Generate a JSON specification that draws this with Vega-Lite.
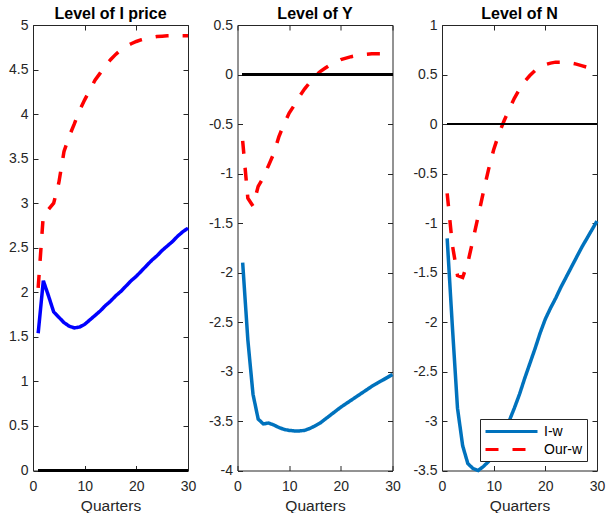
{
  "$schema": "https://vega.github.io/schema/vega-lite/v6.json",
  "background": "white",
  "padding": {"left": 8, "top": 5, "right": 9, "bottom": 0},
  "datasets": {
    "p1": [
      {"q":1,"s":"I-w","v":1.54},{"q":2,"s":"I-w","v":2.13},{"q":3,"s":"I-w","v":1.96},{"q":4,"s":"I-w","v":1.78},{"q":5,"s":"I-w","v":1.72},{"q":6,"s":"I-w","v":1.66},{"q":7,"s":"I-w","v":1.62},{"q":8,"s":"I-w","v":1.60},{"q":9,"s":"I-w","v":1.61},{"q":10,"s":"I-w","v":1.64},
      {"q":11,"s":"I-w","v":1.69},{"q":12,"s":"I-w","v":1.74},{"q":13,"s":"I-w","v":1.79},{"q":14,"s":"I-w","v":1.85},{"q":15,"s":"I-w","v":1.90},{"q":16,"s":"I-w","v":1.96},{"q":17,"s":"I-w","v":2.01},{"q":18,"s":"I-w","v":2.07},{"q":19,"s":"I-w","v":2.13},{"q":20,"s":"I-w","v":2.18},
      {"q":21,"s":"I-w","v":2.24},{"q":22,"s":"I-w","v":2.30},{"q":23,"s":"I-w","v":2.36},{"q":24,"s":"I-w","v":2.41},{"q":25,"s":"I-w","v":2.47},{"q":26,"s":"I-w","v":2.52},{"q":27,"s":"I-w","v":2.57},{"q":28,"s":"I-w","v":2.63},{"q":29,"s":"I-w","v":2.68},{"q":30,"s":"I-w","v":2.72},
      {"q":1,"s":"Our-w","v":2.05},{"q":2,"s":"Our-w","v":2.87},{"q":3,"s":"Our-w","v":2.93},{"q":4,"s":"Our-w","v":3.0},{"q":5,"s":"Our-w","v":3.23},{"q":6,"s":"Our-w","v":3.58},{"q":7,"s":"Our-w","v":3.75},{"q":8,"s":"Our-w","v":3.89},{"q":9,"s":"Our-w","v":4.04},{"q":10,"s":"Our-w","v":4.16},
      {"q":11,"s":"Our-w","v":4.27},{"q":12,"s":"Our-w","v":4.38},{"q":13,"s":"Our-w","v":4.46},{"q":14,"s":"Our-w","v":4.54},{"q":15,"s":"Our-w","v":4.61},{"q":16,"s":"Our-w","v":4.67},{"q":17,"s":"Our-w","v":4.72},{"q":18,"s":"Our-w","v":4.76},{"q":19,"s":"Our-w","v":4.79},{"q":20,"s":"Our-w","v":4.815},
      {"q":21,"s":"Our-w","v":4.835},{"q":22,"s":"Our-w","v":4.85},{"q":23,"s":"Our-w","v":4.86},{"q":24,"s":"Our-w","v":4.87},{"q":25,"s":"Our-w","v":4.875},{"q":26,"s":"Our-w","v":4.878},{"q":27,"s":"Our-w","v":4.88},{"q":28,"s":"Our-w","v":4.88},{"q":29,"s":"Our-w","v":4.88},{"q":30,"s":"Our-w","v":4.88}
    ],
    "p2": [
      {"q":1,"s":"I-w","v":-1.90},{"q":2,"s":"I-w","v":-2.68},{"q":3,"s":"I-w","v":-3.23},{"q":4,"s":"I-w","v":-3.48},{"q":5,"s":"I-w","v":-3.53},{"q":6,"s":"I-w","v":-3.52},{"q":7,"s":"I-w","v":-3.54},{"q":8,"s":"I-w","v":-3.565},{"q":9,"s":"I-w","v":-3.585},{"q":10,"s":"I-w","v":-3.595},
      {"q":11,"s":"I-w","v":-3.60},{"q":12,"s":"I-w","v":-3.60},{"q":13,"s":"I-w","v":-3.595},{"q":14,"s":"I-w","v":-3.575},{"q":15,"s":"I-w","v":-3.55},{"q":16,"s":"I-w","v":-3.52},{"q":17,"s":"I-w","v":-3.48},{"q":18,"s":"I-w","v":-3.44},{"q":19,"s":"I-w","v":-3.40},{"q":20,"s":"I-w","v":-3.36},
      {"q":21,"s":"I-w","v":-3.325},{"q":22,"s":"I-w","v":-3.29},{"q":23,"s":"I-w","v":-3.255},{"q":24,"s":"I-w","v":-3.22},{"q":25,"s":"I-w","v":-3.185},{"q":26,"s":"I-w","v":-3.15},{"q":27,"s":"I-w","v":-3.12},{"q":28,"s":"I-w","v":-3.09},{"q":29,"s":"I-w","v":-3.06},{"q":30,"s":"I-w","v":-3.03},
      {"q":1,"s":"Our-w","v":-0.67},{"q":2,"s":"Our-w","v":-1.25},{"q":3,"s":"Our-w","v":-1.33},{"q":4,"s":"Our-w","v":-1.13},{"q":5,"s":"Our-w","v":-1.04},{"q":6,"s":"Our-w","v":-0.92},{"q":7,"s":"Our-w","v":-0.80},{"q":8,"s":"Our-w","v":-0.63},{"q":9,"s":"Our-w","v":-0.50},{"q":10,"s":"Our-w","v":-0.39},
      {"q":11,"s":"Our-w","v":-0.31},{"q":12,"s":"Our-w","v":-0.22},{"q":13,"s":"Our-w","v":-0.145},{"q":14,"s":"Our-w","v":-0.08},{"q":15,"s":"Our-w","v":-0.02},{"q":16,"s":"Our-w","v":0.03},{"q":17,"s":"Our-w","v":0.065},{"q":18,"s":"Our-w","v":0.10},{"q":19,"s":"Our-w","v":0.125},{"q":20,"s":"Our-w","v":0.15},
      {"q":21,"s":"Our-w","v":0.165},{"q":22,"s":"Our-w","v":0.18},{"q":23,"s":"Our-w","v":0.19},{"q":24,"s":"Our-w","v":0.20},{"q":25,"s":"Our-w","v":0.205},{"q":26,"s":"Our-w","v":0.21},{"q":27,"s":"Our-w","v":0.21},{"q":28,"s":"Our-w","v":0.21},{"q":29,"s":"Our-w","v":0.21},{"q":30,"s":"Our-w","v":0.21}
    ],
    "p3": [
      {"q":1,"s":"I-w","v":-1.155},{"q":2,"s":"I-w","v":-2.04},{"q":3,"s":"I-w","v":-2.87},{"q":4,"s":"I-w","v":-3.25},{"q":5,"s":"I-w","v":-3.43},{"q":6,"s":"I-w","v":-3.48},{"q":7,"s":"I-w","v":-3.50},{"q":8,"s":"I-w","v":-3.46},{"q":9,"s":"I-w","v":-3.41},{"q":10,"s":"I-w","v":-3.33},
      {"q":11,"s":"I-w","v":-3.23},{"q":12,"s":"I-w","v":-3.12},{"q":13,"s":"I-w","v":-3.0},{"q":14,"s":"I-w","v":-2.87},{"q":15,"s":"I-w","v":-2.73},{"q":16,"s":"I-w","v":-2.57},{"q":17,"s":"I-w","v":-2.42},{"q":18,"s":"I-w","v":-2.27},{"q":19,"s":"I-w","v":-2.11},{"q":20,"s":"I-w","v":-1.97},
      {"q":21,"s":"I-w","v":-1.86},{"q":22,"s":"I-w","v":-1.76},{"q":23,"s":"I-w","v":-1.65},{"q":24,"s":"I-w","v":-1.55},{"q":25,"s":"I-w","v":-1.45},{"q":26,"s":"I-w","v":-1.35},{"q":27,"s":"I-w","v":-1.25},{"q":28,"s":"I-w","v":-1.16},{"q":29,"s":"I-w","v":-1.07},{"q":30,"s":"I-w","v":-0.98},
      {"q":1,"s":"Our-w","v":-0.70},{"q":2,"s":"Our-w","v":-1.22},{"q":3,"s":"Our-w","v":-1.53},{"q":4,"s":"Our-w","v":-1.55},{"q":5,"s":"Our-w","v":-1.40},{"q":6,"s":"Our-w","v":-1.17},{"q":7,"s":"Our-w","v":-0.93},{"q":8,"s":"Our-w","v":-0.69},{"q":9,"s":"Our-w","v":-0.46},{"q":10,"s":"Our-w","v":-0.26},
      {"q":11,"s":"Our-w","v":-0.10},{"q":12,"s":"Our-w","v":0.03},{"q":13,"s":"Our-w","v":0.15},{"q":14,"s":"Our-w","v":0.26},{"q":15,"s":"Our-w","v":0.35},{"q":16,"s":"Our-w","v":0.43},{"q":17,"s":"Our-w","v":0.49},{"q":18,"s":"Our-w","v":0.54},{"q":19,"s":"Our-w","v":0.58},{"q":20,"s":"Our-w","v":0.60},
      {"q":21,"s":"Our-w","v":0.615},{"q":22,"s":"Our-w","v":0.625},{"q":23,"s":"Our-w","v":0.625},{"q":24,"s":"Our-w","v":0.62},{"q":25,"s":"Our-w","v":0.615},{"q":26,"s":"Our-w","v":0.605},{"q":27,"s":"Our-w","v":0.59},{"q":28,"s":"Our-w","v":0.575},{"q":29,"s":"Our-w","v":0.555},{"q":30,"s":"Our-w","v":0.53}
    ]
  },
  "spacing": 49.5,
  "bounds": "flush",
  "resolve": {"scale": {"color": "independent", "strokeDash": "independent", "x": "independent", "y": "independent"}},
  "hconcat": [
    {
      "title": "Level of I price",
      "width": 155, "height": 445.5,
      "data": {"name": "p1"},
      "layer": [
        {
          "mark": {"type": "line", "strokeWidth": 3.5},
          "encoding": {
            "x": {"field": "q", "type": "quantitative", "scale": {"domain": [0, 30], "nice": false, "zero": false}, "axis": {"values": [0, 10, 20, 30], "title": "Quarters", "labelFlush": false}},
            "y": {"field": "v", "type": "quantitative", "scale": {"domain": [0, 5], "nice": false, "zero": false}, "axis": {"values": [0, 0.5, 1, 1.5, 2, 2.5, 3, 3.5, 4, 4.5, 5], "title": null, "labelExpr": "'' + datum.value"}},
            "color": {"field": "s", "type": "nominal", "scale": {"domain": ["I-w", "Our-w"], "range": ["#0000FF", "#FF0000"]}, "legend": null},
            "strokeDash": {"field": "s", "type": "nominal", "scale": {"domain": ["I-w", "Our-w"], "range": [[1, 0], [13, 14]]}, "legend": null}
          }
        },
        {
          "mark": {"type": "rule", "color": "#000000", "strokeWidth": 2},
          "encoding": {
            "x": {"datum": 1, "type": "quantitative", "axis": null},
            "x2": {"datum": 30},
            "y": {"datum": 0, "type": "quantitative", "axis": null}
          }
        },
        {
          "mark": {"type": "line", "opacity": 0},
          "encoding": {
            "x": {"field": "q", "type": "quantitative", "axis": {"orient": "top", "labels": false, "title": null, "values": [0, 10, 20, 30], "labelPadding": 0, "minExtent": 0, "maxExtent": 0}},
            "y": {"field": "v", "type": "quantitative", "axis": {"orient": "right", "labels": false, "title": null, "values": [0, 0.5, 1, 1.5, 2, 2.5, 3, 3.5, 4, 4.5, 5], "labelPadding": 0, "minExtent": 0, "maxExtent": 0}}
          }
        }
      ],
      "resolve": {"axis": {"x": "independent", "y": "independent"}}
    },
    {
      "title": "Level of Y",
      "width": 155, "height": 445.5,
      "data": {"name": "p2"},
      "layer": [
        {
          "mark": {"type": "line", "strokeWidth": 3.5},
          "encoding": {
            "x": {"field": "q", "type": "quantitative", "scale": {"domain": [0, 30], "nice": false, "zero": false}, "axis": {"values": [0, 10, 20, 30], "title": "Quarters", "labelFlush": false}},
            "y": {"field": "v", "type": "quantitative", "scale": {"domain": [-4, 0.5], "nice": false, "zero": false}, "axis": {"values": [-4, -3.5, -3, -2.5, -2, -1.5, -1, -0.5, 0, 0.5], "title": null, "labelExpr": "'' + datum.value"}},
            "color": {"field": "s", "type": "nominal", "scale": {"domain": ["I-w", "Our-w"], "range": ["#0072BD", "#FF0000"]}, "legend": null},
            "strokeDash": {"field": "s", "type": "nominal", "scale": {"domain": ["I-w", "Our-w"], "range": [[1, 0], [13, 14]]}, "legend": null}
          }
        },
        {
          "mark": {"type": "rule", "color": "#000000", "strokeWidth": 2},
          "encoding": {
            "x": {"datum": 1, "type": "quantitative", "axis": null},
            "x2": {"datum": 30},
            "y": {"datum": 0, "type": "quantitative", "axis": null}
          }
        },
        {
          "mark": {"type": "line", "opacity": 0},
          "encoding": {
            "x": {"field": "q", "type": "quantitative", "axis": {"orient": "top", "labels": false, "title": null, "values": [0, 10, 20, 30], "labelPadding": 0, "minExtent": 0, "maxExtent": 0}},
            "y": {"field": "v", "type": "quantitative", "axis": {"orient": "right", "labels": false, "title": null, "values": [-4, -3.5, -3, -2.5, -2, -1.5, -1, -0.5, 0, 0.5], "labelPadding": 0, "minExtent": 0, "maxExtent": 0}}
          }
        }
      ],
      "resolve": {"axis": {"x": "independent", "y": "independent"}}
    },
    {
      "title": "Level of N",
      "width": 155, "height": 445.5,
      "data": {"name": "p3"},
      "layer": [
        {
          "mark": {"type": "line", "strokeWidth": 3.5},
          "encoding": {
            "x": {"field": "q", "type": "quantitative", "scale": {"domain": [0, 30], "nice": false, "zero": false}, "axis": {"values": [0, 10, 20, 30], "title": "Quarters", "labelFlush": false}},
            "y": {"field": "v", "type": "quantitative", "scale": {"domain": [-3.5, 1], "nice": false, "zero": false}, "axis": {"values": [-3.5, -3, -2.5, -2, -1.5, -1, -0.5, 0, 0.5, 1], "title": null, "labelExpr": "'' + datum.value"}},
            "color": {"field": "s", "type": "nominal", "scale": {"domain": ["I-w", "Our-w"], "range": ["#0072BD", "#FF0000"]}, "legend": {"title": null}},
            "strokeDash": {"field": "s", "type": "nominal", "scale": {"domain": ["I-w", "Our-w"], "range": [[1, 0], [13, 14]]}, "legend": {"title": null}}
          }
        },
        {
          "mark": {"type": "rule", "color": "#000000", "strokeWidth": 2},
          "encoding": {
            "x": {"datum": 1, "type": "quantitative", "axis": null},
            "x2": {"datum": 30},
            "y": {"datum": 0, "type": "quantitative", "axis": null}
          }
        },
        {
          "mark": {"type": "line", "opacity": 0},
          "encoding": {
            "x": {"field": "q", "type": "quantitative", "axis": {"orient": "top", "labels": false, "title": null, "values": [0, 10, 20, 30], "labelPadding": 0, "minExtent": 0, "maxExtent": 0}},
            "y": {"field": "v", "type": "quantitative", "axis": {"orient": "right", "labels": false, "title": null, "values": [-3.5, -3, -2.5, -2, -1.5, -1, -0.5, 0, 0.5, 1], "labelPadding": 0, "minExtent": 0, "maxExtent": 0}}
          }
        }
      ],
      "resolve": {"axis": {"x": "independent", "y": "independent"}}
    }
  ],
  "config": {
    "font": "Liberation Sans",
    "view": {"stroke": "#262626", "strokeWidth": 1},
    "axis": {"domain": false, "grid": false, "ticks": true, "tickSize": -5, "tickColor": "#262626", "tickWidth": 1, "labelFont": "Liberation Sans", "labelFontSize": 14, "labelColor": "#262626", "labelFlush": false, "titleFont": "Liberation Sans", "titleFontSize": 15.5, "titleFontWeight": "normal", "titleColor": "#262626"},
    "axisX": {"labelPadding": 13.5, "titlePadding": 5},
    "axisY": {"labelPadding": 10},
    "title": {"font": "Liberation Sans", "fontSize": 16, "fontWeight": "bold", "color": "#000000", "offset": -4, "baseline": "alphabetic"},
    "legend": {"orient": "bottom-right", "offset": 10, "fillColor": "white", "strokeColor": "#262626", "padding": 4, "labelFont": "Liberation Sans", "labelFontSize": 14, "labelColor": "#000000", "symbolType": "M-1,0H6.43", "symbolSize": 196, "symbolStrokeWidth": 3, "labelOffset": 43, "rowPadding": 2}
  }
}
